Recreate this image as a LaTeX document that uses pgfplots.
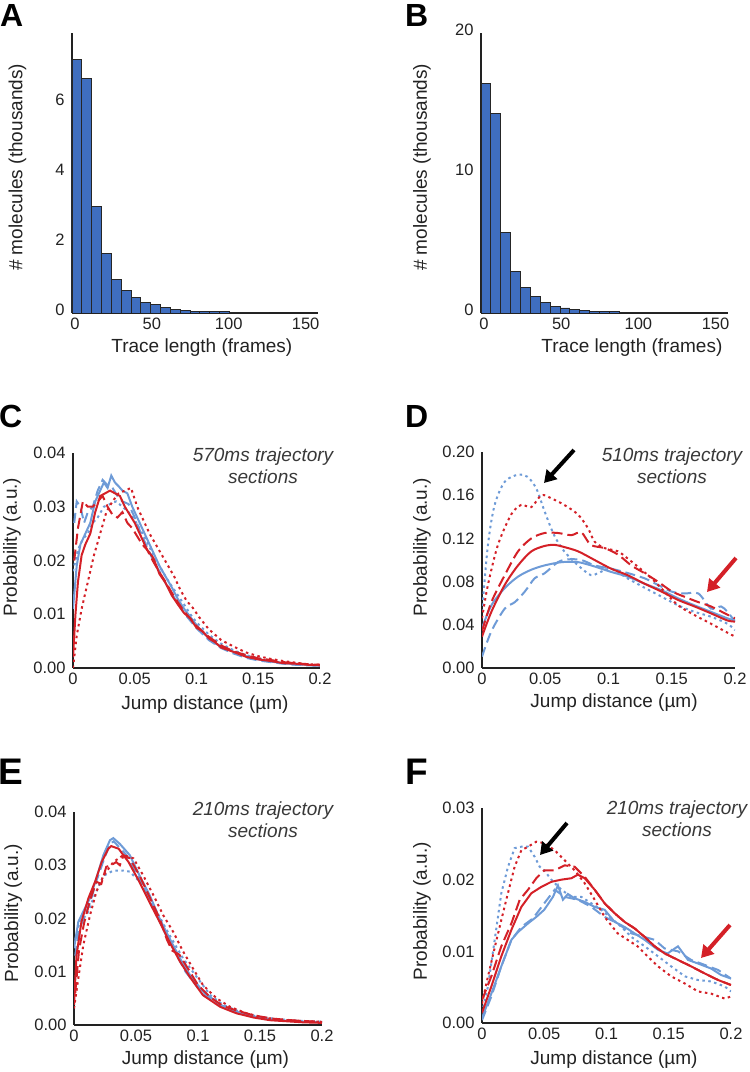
\documentclass[border=0pt]{standalone}
\usepackage{fontspec}
\setmainfont{Liberation Sans}
\usepackage{pgfplots}
\pgfplotsset{compat=1.18}
\usetikzlibrary{arrows.meta}
\definecolor{barblue}{HTML}{3F6EBF}
\definecolor{lblue}{HTML}{6E9BD7}
\definecolor{lred}{HTML}{D42027}
\definecolor{txt}{HTML}{222222}
\pgfplotsset{
  panel/.style={
    scale only axis,
    axis x line=bottom, axis y line=left,
    axis line style={-, line width=1.4pt, color=txt},
    major tick length=0pt,
    tick style={draw=none},
    scaled x ticks=false, scaled y ticks=false,
    /pgf/number format/assume math mode=true,
    tick label style={font=\fontsize{16.5}{18}\selectfont, color=txt},
    xticklabel style={yshift=-1.5pt},
    yticklabel style={xshift=-4pt},
    label style={font=\fontsize{19}{21}\selectfont, color=txt},
  },
  jump/.style={
    xmin=0, xmax=0.2, ymin=0,
    xtick={0,0.05,0.1,0.15,0.2},
    xticklabels={0,0.05,0.1,0.15,0.2},
    xlabel={Jump distance (µm)},
  },
  bs/.style={lblue, line width=2pt},
  bd/.style={lblue, line width=2pt, dash pattern=on 10pt off 5pt},
  bt/.style={lblue, line width=2pt, dash pattern=on 2.5pt off 3.5pt},
  rs/.style={lred, line width=2pt},
  rd/.style={lred, line width=2pt, dash pattern=on 11pt off 5pt},
  rt/.style={lred, line width=2pt, dash pattern=on 2.5pt off 3.5pt},
}
\begin{document}
\begin{tikzpicture}
\useasboundingbox (0pt,0pt) rectangle (750pt,1072pt);

% ---------------- A ----------------
\begin{axis}[panel, at={(72pt,759pt)}, anchor=south west,
  width=246pt, height=280pt,
  xmin=0, xmax=160, ymin=0, ymax=8,
  xtick={0,50,100,150}, ytick={0,2,4,6},
  xticklabel style={xshift=3pt}, yticklabel style={yshift=3pt},
  xlabel={Trace length (frames)}, ylabel={\# molecules (thousands)},
  xlabel style={at={(axis description cs:0.528,-0.125)}, anchor=center},
  ylabel style={at={(axis description cs:-0.222,0.52)}, anchor=center}]
\addplot[ybar interval, fill=barblue, draw=black!85, line width=0.9pt] coordinates {
(0,7.24) (6.4,6.70) (12.8,3.05) (19.2,1.71) (25.6,0.95) (32,0.64) (38.4,0.45)
(44.8,0.31) (51.2,0.23) (57.6,0.16) (64,0.11) (70.4,0.075) (76.8,0.055)
(83.2,0.045) (89.6,0.035) (96,0.03) (102.4,0.025) (108.8,0.02) (115.2,0.015)
(121.6,0.012) (128,0)};
\end{axis}

% ---------------- B ----------------
\begin{axis}[panel, at={(481pt,759pt)}, anchor=south west,
  width=247pt, height=280pt,
  xmin=0, xmax=160, ymin=0, ymax=20,
  xtick={0,50,100,150}, ytick={0,10,20},
  xticklabel style={xshift=3pt}, yticklabel style={yshift=3pt},
  xlabel={Trace length (frames)}, ylabel={\# molecules (thousands)},
  xlabel style={at={(axis description cs:0.611,-0.125)}, anchor=center},
  ylabel style={at={(axis description cs:-0.239,0.52)}, anchor=center}]
\addplot[ybar interval, fill=barblue, draw=black!85, line width=0.9pt] coordinates {
(0,16.42) (6.4,14.22) (12.8,5.73) (19.2,2.94) (25.6,1.79) (32,1.15) (38.4,0.72)
(44.8,0.48) (51.2,0.36) (57.6,0.26) (64,0.19) (70.4,0.14) (76.8,0.10)
(83.2,0.08) (89.6,0.06) (96,0.05) (102.4,0.04) (108.8,0.03) (115.2,0.03)
(121.6,0.02) (128,0)};
\end{axis}

% ---------------- C ----------------
\begin{axis}[panel, jump, at={(73pt,404pt)}, anchor=south west,
  width=247pt, height=215pt, ymax=0.04,
  ytick={0,0.01,0.02,0.03,0.04}, yticklabels={0.00,0.01,0.02,0.03,0.04},
  ylabel={Probability (a.u.)},
  xlabel style={at={(axis description cs:0.534,-0.172)}, anchor=center},
  ylabel style={at={(axis description cs:-0.247,0.563)}, anchor=center}]
\addplot[bt] table {
x y
0 0.018
0.004 0.022
0.008 0.024
0.012 0.025
0.016 0.027
0.02 0.028
0.025 0.030
0.03 0.0305
0.035 0.031
0.04 0.030
0.045 0.029
0.05 0.0275
0.055 0.0255
0.06 0.0235
0.065 0.021
0.07 0.019
0.075 0.017
0.08 0.0152
0.085 0.0135
0.09 0.0118
0.095 0.010
0.1 0.0085
0.11 0.0062
0.12 0.0045
0.13 0.0033
0.14 0.0024
0.15 0.0018
0.16 0.0013
0.17 0.0010
0.18 0.0008
0.19 0.0006
0.2 0.0005
};
\addplot[bd] table {
x y
0.001 0.027
0.003 0.031
0.006 0.030
0.009 0.027
0.012 0.029
0.016 0.030
0.02 0.033
0.024 0.035
0.028 0.034
0.032 0.0335
0.036 0.032
0.04 0.031
0.045 0.0305
0.05 0.028
0.055 0.025
0.06 0.0225
0.065 0.020
0.07 0.018
0.075 0.0158
0.08 0.0138
0.085 0.012
0.09 0.0102
0.095 0.0088
0.1 0.0074
0.11 0.0052
0.12 0.0037
0.13 0.0027
0.14 0.0019
0.15 0.0014
0.16 0.0011
0.17 0.0008
0.18 0.0006
0.19 0.0005
0.2 0.0004
};
\addplot[bs] table {
x y
0 0.011
0.003 0.019
0.006 0.023
0.01 0.025
0.014 0.027
0.018 0.031
0.022 0.033
0.025 0.0345
0.028 0.0335
0.031 0.0358
0.034 0.0345
0.037 0.0338
0.04 0.0330
0.044 0.0325
0.048 0.0300
0.052 0.0280
0.056 0.0260
0.06 0.0240
0.065 0.0215
0.07 0.0190
0.075 0.0170
0.08 0.0150
0.085 0.0128
0.09 0.0110
0.095 0.0095
0.1 0.0080
0.105 0.0066
0.11 0.0056
0.115 0.0046
0.12 0.0040
0.13 0.0030
0.14 0.0022
0.15 0.0016
0.16 0.0012
0.17 0.0009
0.18 0.0007
0.19 0.0006
0.2 0.0004
};
\addplot[rt] table {
x y
0 0.000
0.003 0.006
0.007 0.011
0.012 0.016
0.017 0.021
0.022 0.025
0.027 0.029
0.032 0.031
0.037 0.0325
0.042 0.0330
0.047 0.0335
0.052 0.0300
0.057 0.0275
0.062 0.0250
0.067 0.0230
0.072 0.0210
0.077 0.0190
0.082 0.0170
0.087 0.0145
0.092 0.0125
0.097 0.0112
0.102 0.0095
0.11 0.0072
0.12 0.0052
0.13 0.0040
0.14 0.0029
0.15 0.0022
0.16 0.0017
0.17 0.0013
0.18 0.0010
0.19 0.0007
0.2 0.0006
};
\addplot[rd] table {
x y
0.001 0.020
0.004 0.026
0.008 0.031
0.012 0.030
0.016 0.030
0.02 0.031
0.024 0.032
0.028 0.030
0.032 0.0285
0.036 0.028
0.04 0.029
0.044 0.027
0.048 0.026
0.052 0.0245
0.056 0.023
0.06 0.022
0.065 0.0198
0.07 0.0178
0.075 0.016
0.08 0.014
0.085 0.0122
0.09 0.0105
0.095 0.0092
0.1 0.0078
0.11 0.0058
0.12 0.0042
0.13 0.0031
0.14 0.0024
0.15 0.0018
0.16 0.0015
0.17 0.0011
0.18 0.0009
0.19 0.0007
0.2 0.0006
};
\addplot[rs] table {
x y
0 0.002
0.002 0.010
0.004 0.016
0.007 0.021
0.01 0.023
0.014 0.025
0.018 0.029
0.022 0.032
0.026 0.0325
0.03 0.033
0.034 0.0325
0.038 0.032
0.042 0.030
0.046 0.0285
0.05 0.027
0.055 0.0245
0.06 0.022
0.065 0.0205
0.07 0.0175
0.075 0.0158
0.08 0.0135
0.085 0.0118
0.09 0.0102
0.095 0.0092
0.1 0.0075
0.105 0.0068
0.11 0.0055
0.115 0.0048
0.12 0.0038
0.13 0.0030
0.14 0.0021
0.15 0.0016
0.16 0.0013
0.17 0.0009
0.18 0.0008
0.19 0.0006
0.2 0.0005
};
\end{axis}

% ---------------- D ----------------
\begin{axis}[panel, jump, at={(482pt,404pt)}, anchor=south west,
  width=253pt, height=216pt, ymax=0.2,
  ytick={0,0.04,0.08,0.12,0.16,0.2}, yticklabels={0.00,0.04,0.08,0.12,0.16,0.20},
  ylabel={Probability (a.u.)},
  xlabel style={at={(axis description cs:0.522,-0.162)}, anchor=center},
  ylabel style={at={(axis description cs:-0.237,0.56)}, anchor=center}]
\addplot[bt, smooth] table {
x y
0 0.052
0.0047 0.114
0.010 0.151
0.018 0.1725
0.0285 0.179
0.036 0.177
0.043 0.166
0.0495 0.145
0.057 0.123
0.065 0.108
0.076 0.095
0.086 0.086
0.092 0.088
0.102 0.092
0.115 0.083
0.129 0.074
0.142 0.066
0.155 0.058
0.168 0.052
0.181 0.0475
0.194 0.041
0.2 0.035
};
\addplot[bd, smooth] table {
x y
0 0.0105
0.0074 0.034
0.018 0.055
0.026 0.061
0.034 0.071
0.0416 0.083
0.0495 0.0877
0.060 0.098
0.068 0.1006
0.0785 0.100
0.089 0.095
0.102 0.092
0.115 0.088
0.1286 0.083
0.139 0.077
0.150 0.0707
0.160 0.069
0.171 0.069
0.181 0.055
0.189 0.057
0.194 0.052
0.2 0.043
};
\addplot[bs, smooth] table {
x y
0 0.037
0.0074 0.058
0.018 0.074
0.0285 0.0846
0.039 0.091
0.0495 0.095
0.063 0.098
0.076 0.098
0.089 0.094
0.102 0.089
0.115 0.0846
0.1286 0.078
0.142 0.072
0.155 0.0645
0.168 0.058
0.181 0.052
0.194 0.046
0.2 0.044
};
\addplot[rt, smooth] table {
x y
0 0.046
0.0047 0.077
0.0126 0.114
0.023 0.142
0.031 0.151
0.039 0.149
0.047 0.160
0.055 0.157
0.065 0.151
0.076 0.142
0.084 0.129
0.089 0.117
0.097 0.111
0.1075 0.108
0.115 0.1015
0.123 0.094
0.134 0.083
0.144 0.071
0.155 0.058
0.168 0.049
0.181 0.041
0.192 0.034
0.2 0.029
};
\addplot[rd, smooth] table {
x y
0 0.034
0.0074 0.061
0.018 0.086
0.0285 0.108
0.039 0.120
0.0495 0.125
0.060 0.125
0.0706 0.123
0.0785 0.1256
0.086 0.114
0.097 0.111
0.1075 0.105
0.118 0.095
0.1286 0.0877
0.139 0.080
0.150 0.071
0.160 0.066
0.171 0.061
0.181 0.057
0.192 0.0506
0.2 0.046
};
\addplot[rs, smooth] table {
x y
0 0.029
0.0074 0.052
0.018 0.077
0.0285 0.095
0.039 0.108
0.0495 0.113
0.0575 0.114
0.065 0.112
0.076 0.108
0.089 0.100
0.102 0.092
0.115 0.086
0.1286 0.078
0.142 0.0707
0.155 0.063
0.168 0.057
0.181 0.0506
0.194 0.044
0.2 0.043
};
\end{axis}

% ---------------- E ----------------
\begin{axis}[panel, jump, at={(74pt,47pt)}, anchor=south west,
  width=248pt, height=213pt, ymax=0.04,
  ytick={0,0.01,0.02,0.03,0.04}, yticklabels={0.00,0.01,0.02,0.03,0.04},
  ylabel={Probability (a.u.)},
  xlabel style={at={(axis description cs:0.53,-0.164)}, anchor=center},
  ylabel style={at={(axis description cs:-0.245,0.526)}, anchor=center}]
\addplot[bt] table {
x y
0 0.015
0.0048 0.0197
0.0102 0.0206
0.0156 0.0238
0.0237 0.0280
0.0317 0.0290
0.0398 0.0290
0.045 0.0288
0.053 0.0269
0.061 0.0238
0.069 0.0203
0.077 0.0169
0.088 0.0125
0.099 0.0090
0.11 0.0056
0.12 0.0038
0.1366 0.0022
0.15 0.0015
0.165 0.0011
0.18 0.0008
0.2 0.0006
};
\addplot[bd] table {
x y
0.001 0.013
0.004 0.018
0.008 0.020
0.013 0.023
0.018 0.027
0.024 0.031
0.029 0.034
0.032 0.0345
0.036 0.0335
0.042 0.032
0.05 0.0285
0.058 0.025
0.066 0.021
0.074 0.017
0.082 0.0135
0.09 0.010
0.1 0.007
0.11 0.0048
0.12 0.0034
0.135 0.0022
0.15 0.0014
0.165 0.0009
0.18 0.0007
0.2 0.0005
};
\addplot[bs] table {
x y
0 0.0144
0.0035 0.0194
0.0075 0.0213
0.0129 0.0238
0.018 0.0275
0.0237 0.0319
0.029 0.0347
0.0317 0.0351
0.037 0.0340
0.045 0.0319
0.053 0.0280
0.061 0.0244
0.069 0.0200
0.077 0.0163
0.0855 0.0125
0.0935 0.0094
0.104 0.0063
0.118 0.0038
0.131 0.0025
0.145 0.0016
0.158 0.0011
0.1715 0.0008
0.185 0.0006
0.2 0.0005
};
\addplot[rt] table {
x y
0 0.0031
0.0035 0.0088
0.0075 0.0150
0.0129 0.0206
0.018 0.0250
0.0237 0.0280
0.0317 0.0306
0.0398 0.0319
0.048 0.0313
0.056 0.0280
0.064 0.0244
0.072 0.0206
0.080 0.0175
0.088 0.0138
0.096 0.0106
0.104 0.0075
0.115 0.0050
0.126 0.0034
0.139 0.0022
0.153 0.0014
0.166 0.0010
0.18 0.0008
0.2 0.0006
};
\addplot[rd] table {
x y
0.001 0.006
0.004 0.014
0.008 0.019
0.013 0.0235
0.018 0.0269
0.022 0.0265
0.026 0.0297
0.030 0.0300
0.034 0.0306
0.037 0.0300
0.040 0.0319
0.045 0.0313
0.053 0.0280
0.061 0.0240
0.069 0.0200
0.075 0.0160
0.079 0.0140
0.085 0.0132
0.0935 0.0100
0.1 0.0075
0.11 0.0052
0.12 0.0036
0.13 0.0028
0.145 0.0018
0.16 0.0012
0.175 0.0009
0.19 0.0007
0.2 0.0006
};
\addplot[rs] table {
x y
0 0.0038
0.002 0.0130
0.006 0.0194
0.0116 0.0238
0.017 0.0269
0.0223 0.0306
0.0277 0.0331
0.030 0.0336
0.036 0.0331
0.044 0.0306
0.052 0.0272
0.061 0.0230
0.069 0.0194
0.077 0.0156
0.0855 0.0119
0.0935 0.0090
0.104 0.0056
0.118 0.0034
0.131 0.0022
0.145 0.0014
0.158 0.0009
0.1715 0.0007
0.185 0.0005
0.2 0.0004
};
\end{axis}

% ---------------- F ----------------
\begin{axis}[panel, jump, at={(482pt,49pt)}, anchor=south west,
  width=249pt, height=215pt, ymax=0.03,
  ytick={0,0.01,0.02,0.03}, yticklabels={0.00,0.01,0.02,0.03},
  ylabel={Probability (a.u.)},
  xlabel style={at={(axis description cs:0.53,-0.172)}, anchor=center},
  ylabel style={at={(axis description cs:-0.241,0.52)}, anchor=center}]
\addplot[bt] table {
x y
0 0.0014
0.0048 0.0051
0.0102 0.0116
0.0155 0.0181
0.0209 0.0218
0.0262 0.0244
0.0316 0.0246
0.037 0.0246
0.0423 0.0232
0.0463 0.0218
0.050 0.0213
0.0557 0.0200
0.0637 0.0186
0.0718 0.0176
0.0798 0.0176
0.0878 0.0167
0.0958 0.0158
0.104 0.0146
0.112 0.0134
0.12 0.0120
0.1307 0.0107
0.1414 0.0093
0.152 0.0079
0.163 0.0065
0.1735 0.0060
0.184 0.0058
0.195 0.0051
0.2 0.0044
};
\addplot[bd] table {
x y
0 0.0004
0.0075 0.0037
0.0155 0.0079
0.0236 0.0116
0.0316 0.0134
0.041 0.0146
0.050 0.0167
0.0584 0.0186
0.0664 0.0176
0.077 0.0172
0.0878 0.0162
0.0985 0.0148
0.109 0.0139
0.12 0.0125
0.1307 0.0120
0.1387 0.0116
0.1467 0.0104
0.1574 0.0100
0.168 0.0088
0.179 0.0081
0.1896 0.0074
0.2 0.0062
};
\addplot[bs] table {
x y
0 0.0007
0.0075 0.0041
0.0155 0.0079
0.0236 0.0116
0.029 0.0127
0.037 0.0139
0.0436 0.0148
0.050 0.0158
0.057 0.0176
0.061 0.0192
0.065 0.0172
0.069 0.0180
0.0744 0.0174
0.0825 0.0169
0.0905 0.0162
0.0985 0.0158
0.1066 0.0141
0.1146 0.0134
0.1226 0.0125
0.1307 0.0116
0.1414 0.0102
0.149 0.0097
0.1574 0.0107
0.1655 0.0088
0.1735 0.0083
0.184 0.0076
0.192 0.0067
0.2 0.0062
};
\addplot[rt] table {
x y
0 0.0027
0.0048 0.0065
0.0129 0.0125
0.0195 0.0172
0.0262 0.0218
0.0316 0.0241
0.037 0.0246
0.0436 0.0253
0.050 0.0251
0.0584 0.0241
0.0664 0.0227
0.0744 0.0213
0.0825 0.0195
0.0905 0.0172
0.0985 0.0148
0.109 0.0125
0.117 0.0116
0.125 0.0107
0.133 0.0093
0.1414 0.0079
0.152 0.0065
0.163 0.0055
0.1735 0.0044
0.184 0.0041
0.195 0.0034
0.2 0.0037
};
\addplot[rd] table {
x y
0 0.0032
0.0075 0.0065
0.0155 0.0107
0.0236 0.0139
0.0303 0.0172
0.037 0.0186
0.0436 0.0202
0.050 0.0213
0.0584 0.0213
0.0664 0.0220
0.0744 0.0218
0.0825 0.0204
0.0905 0.0186
0.0985 0.0167
0.1066 0.0153
0.1146 0.0141
0.1226 0.0132
0.1307 0.0120
0.1387 0.0107
0.1467 0.0097
0.1574 0.0088
0.168 0.0079
0.179 0.0069
0.1896 0.0060
0.2 0.0053
};
\addplot[rs] table {
x y
0 0.0014
0.0075 0.0051
0.0155 0.0093
0.0236 0.0130
0.0316 0.0162
0.0396 0.0181
0.0477 0.0190
0.0557 0.0197
0.0637 0.0200
0.0718 0.0202
0.077 0.0207
0.0825 0.0202
0.0905 0.0186
0.0985 0.0167
0.1066 0.0153
0.1146 0.0141
0.1226 0.0132
0.1307 0.0120
0.1387 0.0107
0.1467 0.0097
0.1574 0.0088
0.168 0.0079
0.179 0.0069
0.1896 0.0060
0.2 0.0053
};
\end{axis}

% ---------------- annotations ----------------
\node[font=\fontsize{32}{34}\selectfont\bfseries, anchor=base west, inner sep=0pt] at (0pt,1045pt) {A};
\node[font=\fontsize{32}{34}\selectfont\bfseries, anchor=base west, inner sep=0pt] at (405pt,1045pt) {B};
\node[font=\fontsize{32}{34}\selectfont\bfseries, anchor=base west, inner sep=0pt] at (-1pt,644pt) {C};
\node[font=\fontsize{32}{34}\selectfont\bfseries, anchor=base west, inner sep=0pt] at (405pt,644pt) {D};
\node[font=\fontsize{37}{39}\selectfont\bfseries, anchor=base west, inner sep=0pt] at (-2pt,287pt) {E};
\node[font=\fontsize{37}{39}\selectfont\bfseries, anchor=base west, inner sep=0pt] at (405pt,287pt) {F};

\node[font=\fontsize{19}{22}\selectfont\itshape, text=txt!90, align=center] at (263pt,606pt) {570ms trajectory\\sections};
\node[font=\fontsize{19}{22}\selectfont\itshape, text=txt!90, align=center] at (672pt,606pt) {510ms trajectory\\sections};
\node[font=\fontsize{19}{22}\selectfont\itshape, text=txt!90, align=center] at (263pt,252pt) {210ms trajectory\\sections};
\node[font=\fontsize{19}{22}\selectfont\itshape, text=txt!90, align=center] at (677pt,253pt) {210ms trajectory\\sections};

\draw[black, line width=4pt, -{Triangle[length=12pt, width=14pt]}] (574pt,622pt) -- (544pt,589pt);
\draw[lred, line width=4pt, -{Triangle[length=12pt, width=14pt]}] (736pt,514pt) -- (707pt,480pt);
\draw[black, line width=4pt, -{Triangle[length=12pt, width=14pt]}] (567pt,249pt) -- (540pt,217pt);
\draw[lred, line width=4pt, -{Triangle[length=12pt, width=14pt]}] (730pt,147pt) -- (701pt,114pt);
\end{tikzpicture}
\end{document}
